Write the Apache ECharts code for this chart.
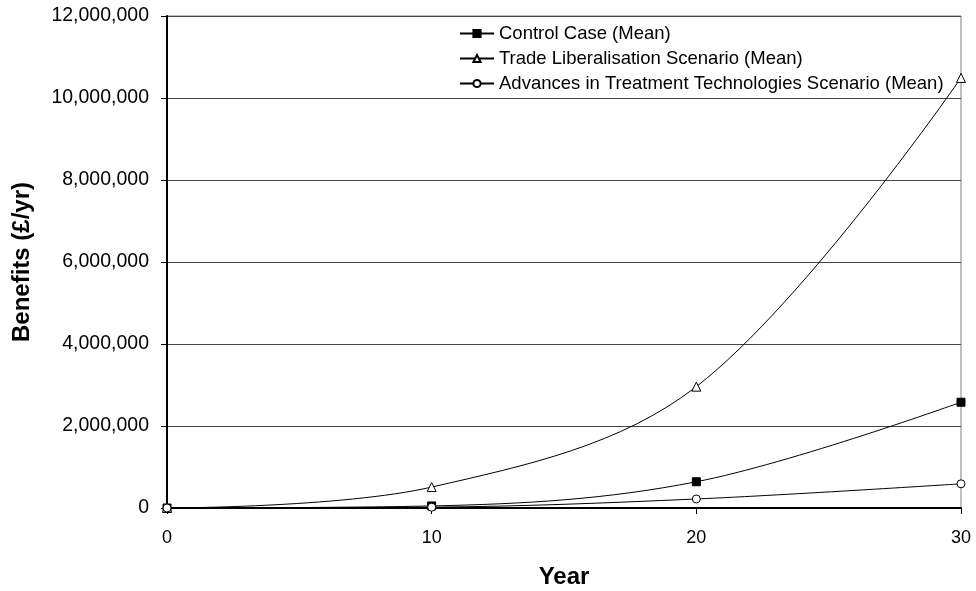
<!DOCTYPE html>
<html>
<head>
<meta charset="utf-8">
<script src="https://cdn.jsdelivr.net/npm/echarts@6/dist/echarts.min.js"></script>
<style>html,body{margin:0;padding:0;background:#fff;}#c{width:976px;height:591px;}</style>
</head>
<body>
<div id="c"></div>
<script>
const years = [0, 10, 20, 30];
const controlCase = [0, 50000, 640000, 2580000];
const tradeLiberalisation = [0, 510000, 2960000, 10490000];
const advancesTreatment = [0, 20000, 220000, 590000];
const seriesNames = [
  'Control Case (Mean)',
  'Trade Liberalisation Scenario (Mean)',
  'Advances in Treatment Technologies Scenario (Mean)'
];
const yTicks = [0, 2000000, 4000000, 6000000, 8000000, 10000000, 12000000];

const pairs = vals => years.map((y, i) => [y, vals[i]]);
const font = 'Liberation Sans, Arial, sans-serif';

const chart = echarts.init(document.getElementById('c'), null, {renderer: 'canvas'});
const mk = (name, vals, symbol, fill, size) => ({
  name, type: 'line', data: pairs(vals), smooth: 0.35,
  symbol, symbolSize: size, showAllSymbol: true,
  lineStyle: {color: '#000', width: 1},
  itemStyle: {color: fill, borderColor: '#000', borderWidth: 1},
  emphasis: {disabled: true}
});
chart.setOption({
  animation: false,
  backgroundColor: '#fff',
  grid: {left: 167, right: 15, top: 16, bottom: 83, show: true, borderColor: '#808080', borderWidth: 1,
    backgroundColor: 'transparent', containLabel: false, outerBoundsMode: 'none'},
  legend: {
    orient: 'vertical', left: 454, top: 19, itemGap: 6, itemWidth: 34, itemHeight: 9,
    textStyle: {color: '#000', fontSize: 18.5, fontFamily: font},
    data: seriesNames
  },
  xAxis: {
    type: 'value', min: 0, max: 30, interval: 10,
    name: 'Year', nameLocation: 'middle', nameGap: 57,
    nameTextStyle: {color: '#000', fontSize: 24, fontWeight: 'bold', fontFamily: font},
    axisLine: {lineStyle: {color: '#000', width: 2}},
    axisTick: {show: true, length: 6, lineStyle: {color: '#000'}},
    axisLabel: {color: '#000', fontSize: 18, fontFamily: font, margin: 21},
    splitLine: {show: false}
  },
  yAxis: {
    type: 'value', min: 0, max: 12000000, interval: 2000000,
    name: 'Benefits (£/yr)', nameLocation: 'middle', nameGap: 133, nameRotate: 90,
    nameTextStyle: {color: '#000', fontSize: 24, fontWeight: 'bold', fontFamily: font},
    axisLine: {show: true, lineStyle: {color: '#000', width: 2}},
    axisTick: {show: true, length: 6, lineStyle: {color: '#000'}},
    axisLabel: {color: '#000', fontSize: 19.5, fontFamily: font, margin: 18,
      formatter: v => yTicks.includes(v) ? v.toLocaleString('en-US') : ''},
    splitLine: {show: true, lineStyle: {color: '#444', width: 1}}
  },
  series: [
    mk(seriesNames[0], controlCase, 'rect', '#000', 8),
    mk(seriesNames[1], tradeLiberalisation, 'triangle', '#fff', 9),
    mk(seriesNames[2], advancesTreatment, 'circle', '#fff', 8)
  ]
});
</script>
</body>
</html>
